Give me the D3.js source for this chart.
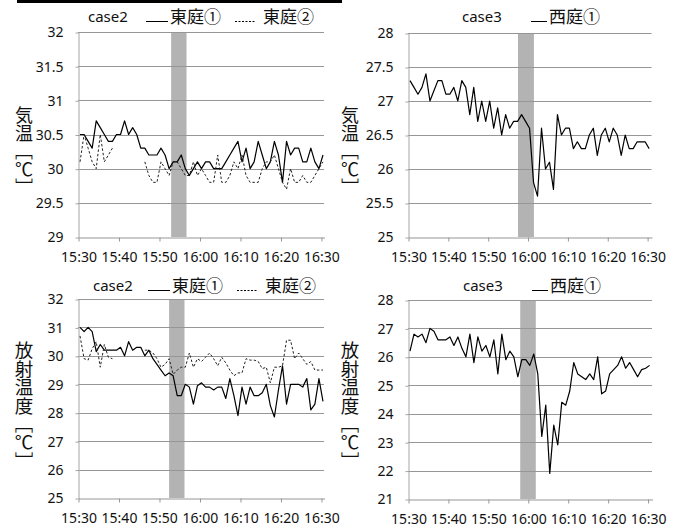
<!DOCTYPE html>
<html>
<head>
<meta charset="utf-8">
<script src="https://cdn.jsdelivr.net/npm/d3@7"></script>
<style>
  body { margin: 0; background: #fff; }
  svg { display: block; }
</style>
</head>
<body>
<svg id="chart" width="683" height="530"></svg>
<script>
// sample times: minutes after 15:30 (one reading per minute, at :30 s)
var times = d3.range(61).map(function(i) { return i + 0.5; });
var xTickValues = [0, 10, 20, 30, 40, 50, 60];
var xTickLabels = ['15:30', '15:40', '15:50', '16:00', '16:10', '16:20', '16:30'];

// 気温 case2
var east1Air = [30.5,30.5,30.4,30.3,30.7,30.6,30.5,30.4,30.4,30.5,
  30.5,30.7,30.5,30.6,30.5,30.3,30.3,30.2,30.2,30.2,
  30.3,30.2,30.0,30.1,30.1,30.2,30.0,29.9,30.0,30.1,
  30.0,30.1,30.1,30.0,30.0,30.0,30.1,30.2,30.3,30.4,
  30.1,30.3,30.0,30.1,30.4,30.2,30.0,30.1,30.4,30.2,
  29.8,30.4,30.2,30.3,30.3,30.1,30.1,30.3,30.1,30.0,30.2];
var east2Air = [30.1,30.5,30.3,30.1,30.0,30.5,30.1,30.2,30.3,null,
  null,null,null,null,null,null,30.1,29.9,29.8,29.8,
  30.1,30.0,29.9,30.1,30.1,30.0,29.9,29.9,30.1,29.9,
  30.0,29.9,29.8,29.8,30.2,29.8,29.8,29.9,30.1,30.0,
  30.2,29.9,29.8,29.8,29.8,30.0,30.1,30.1,30.2,30.0,
  29.8,29.7,30.0,29.8,29.8,29.9,29.8,29.8,29.9,30.0,30.1];
// 気温 case3
var west1Air = [27.3,27.2,27.1,27.2,27.4,27.0,27.15,27.3,27.3,27.1,
  27.1,27.2,27.0,27.3,27.2,26.8,27.2,26.7,27.0,26.7,
  27.0,26.6,26.9,26.5,26.8,26.6,26.7,26.7,26.8,26.7,
  26.6,25.8,25.6,26.6,26.0,26.1,25.7,26.8,26.5,26.6,
  26.6,26.3,26.4,26.3,26.3,26.5,26.6,26.2,26.5,26.6,
  26.4,26.6,26.5,26.2,26.5,26.3,26.3,26.4,26.4,26.4,26.3];
// 放射温度 case2
var east1Rad = [31.0,30.85,31.0,30.85,30.15,30.4,30.2,30.2,30.2,30.2,
  30.3,30.0,30.5,30.2,30.3,30.3,30.0,30.2,29.9,29.7,
  29.5,29.3,29.4,29.3,28.6,28.6,29.0,28.9,28.3,28.95,
  29.05,28.9,28.9,28.8,28.9,28.9,28.5,29.2,28.6,27.9,
  28.9,28.3,28.9,28.6,28.6,28.7,29.0,28.25,27.85,28.8,
  29.65,28.3,29.0,29.0,29.0,28.9,29.2,28.1,28.3,29.2,28.4];
var east2Rad = [30.7,29.9,29.85,30.25,30.5,29.6,30.4,29.95,29.9,null,
  null,null,null,null,null,null,30.2,30.2,30.1,29.9,
  29.6,29.7,29.9,29.35,29.5,29.6,29.6,30.1,29.6,29.9,
  29.8,29.95,30.1,29.9,29.65,29.95,29.75,29.5,29.3,29.4,
  29.4,29.9,29.85,29.85,29.8,29.55,29.6,29.05,29.6,29.6,
  29.65,30.55,30.55,29.9,30.1,29.9,29.7,29.8,29.5,29.5,29.5];
// 放射温度 case3
var west1Rad = [26.2,26.8,26.7,26.8,26.5,27.0,26.9,26.6,26.6,26.6,
  26.7,26.4,26.7,26.3,26.0,26.8,25.8,26.7,26.2,26.4,
  26.0,26.6,25.4,26.8,25.9,26.2,26.0,25.3,25.9,25.9,
  25.7,26.1,25.4,23.2,24.3,21.9,23.6,22.9,24.4,24.3,
  24.8,25.8,25.4,25.3,25.2,25.4,25.2,26.0,24.7,24.8,
  25.4,25.55,25.7,26.0,25.6,25.8,25.55,25.3,25.55,25.6,25.7];

var airTicksCase2 = [29, 29.5, 30, 30.5, 31, 31.5, 32];
var airTicksCase3 = [25, 25.5, 26, 26.5, 27, 27.5, 28];
var radTicksCase2 = [25, 26, 27, 28, 29, 30, 31, 32];
var radTicksCase3 = [21, 22, 23, 24, 25, 26, 27, 28];

var airLabel = '気温［℃］';
var radLabel = '放射温度［℃］';

var svg = d3.select('#chart');
var latin = '"Noto Sans", "Noto Sans CJK JP", sans-serif';
var cjk = '"Noto Sans CJK JP", "Noto Sans", sans-serif';

// black bar at the very top
svg.append('rect').attr('x', 17).attr('y', 0).attr('width', 325).attr('height', 3).attr('fill', '#000');

var panels = [
  { left: 78, right: 324, top: 32, bottom: 237, xMax: 60.75, yDomain: [29, 32], yTicks: airTicksCase2,
    band: [23.0, 26.8], series: [east1Air, east2Air], title: 'case2', titleX: 88, titleY: 17,
    legend: [{ x1: 146, x2: 168, textX: 170, text: '東庭①' }, { x1: 235, x2: 256, textX: 263, text: '東庭②', dash: true }],
    label: airLabel, labelX: 24, labelY: 115, labelSize: 18 },
  { left: 408, right: 651.5, top: 33, bottom: 237, xMax: 61.1, yDomain: [25, 28], yTicks: airTicksCase3,
    band: [27.6, 31.6], series: [west1Air], title: 'case3', titleX: 462, titleY: 17,
    legend: [{ x1: 531, x2: 547, textX: 549, text: '西庭①' }],
    label: airLabel, labelX: 350, labelY: 115, labelSize: 18 },
  { left: 78, right: 324, top: 299, bottom: 498, xMax: 60.75, yDomain: [25, 32], yTicks: radTicksCase2,
    band: [22.5, 26.3], series: [east1Rad, east2Rad], title: 'case2', titleX: 93, titleY: 286,
    legend: [{ x1: 148, x2: 170, textX: 172, text: '東庭①' }, { x1: 237, x2: 257, textX: 265, text: '東庭②', dash: true }],
    label: radLabel, labelX: 24, labelY: 350, labelSize: 18.5 },
  { left: 408, right: 652, top: 300, bottom: 499, xMax: 61.1, yDomain: [21, 28], yTicks: radTicksCase3,
    band: [28.1, 32.0], series: [west1Rad], title: 'case3', titleX: 463, titleY: 286,
    legend: [{ x1: 532, x2: 548, textX: 550, text: '西庭①' }],
    label: radLabel, labelX: 350, labelY: 350, labelSize: 18.5 }
];

panels.forEach(function(p) {
  var x = d3.scaleLinear().domain([0, p.xMax]).range([p.left, p.right]);
  var y = d3.scaleLinear().domain(p.yDomain).range([p.bottom, p.top]);
  var g = svg.append('g');

  // shaded period
  g.append('rect')
    .attr('x', x(p.band[0])).attr('width', x(p.band[1]) - x(p.band[0]))
    .attr('y', p.top).attr('height', p.bottom - p.top)
    .attr('fill', '#b3b3b3');

  // horizontal grid
  g.selectAll('.grid').data(p.yTicks.slice(1)).enter().append('line')
    .attr('x1', p.left).attr('x2', p.right)
    .attr('y1', function(d) { return Math.round(y(d)) + 0.5; })
    .attr('y2', function(d) { return Math.round(y(d)) + 0.5; })
    .attr('stroke', '#969696').attr('stroke-width', 1);

  // y axis
  var ya = g.append('g').attr('transform', 'translate(' + (Math.round(p.left) + 0.5) + ',0.5)')
    .call(d3.axisLeft(y).tickValues(p.yTicks).tickSize(3).tickSizeOuter(0).tickPadding(12)
      .tickFormat(function(d) { return String(d); }));
  ya.select('.domain').attr('stroke', '#a6a6a6');
  ya.selectAll('.tick line').attr('stroke', '#a6a6a6');
  ya.selectAll('text').attr('font-family', latin).attr('font-size', 14).attr('fill', '#111');

  // x axis
  var xa = g.append('g').attr('transform', 'translate(0.5,' + (Math.round(p.bottom) + 0.5) + ')')
    .call(d3.axisBottom(x).tickValues(xTickValues).tickSize(4).tickSizeOuter(0).tickPadding(11)
      .tickFormat(function(d, i) { return xTickLabels[i]; }));
  xa.select('.domain').attr('stroke', '#969696');
  xa.selectAll('.tick line').attr('stroke', '#969696');
  xa.selectAll('text').attr('font-family', latin).attr('font-size', 14).attr('fill', '#111');

  // data lines
  var line = d3.line()
    .defined(function(d) { return d != null; })
    .x(function(d, i) { return x(times[i]); })
    .y(function(d) { return y(d); });
  p.series.forEach(function(vals, k) {
    g.append('path')
      .attr('d', line(vals))
      .attr('fill', 'none')
      .attr('stroke', k === 0 ? '#000' : '#222')
      .attr('stroke-width', k === 0 ? 1.2 : 1)
      .attr('stroke-dasharray', k === 0 ? null : '2.5,2')
      .attr('stroke-linejoin', 'round');
  });

  // title + legend
  g.append('text').attr('x', p.titleX).attr('y', p.titleY).attr('dy', '0.35em')
    .attr('font-family', latin).attr('font-size', 15).attr('fill', '#111').text(p.title);
  p.legend.forEach(function(l) {
    g.append('line').attr('x1', l.x1).attr('x2', l.x2)
      .attr('y1', p.titleY + 4.5).attr('y2', p.titleY + 4.5)
      .attr('stroke', '#000').attr('stroke-width', 1)
      .attr('stroke-dasharray', l.dash ? '2,1.5' : null);
    g.append('text').attr('x', l.textX).attr('y', p.titleY).attr('dy', '0.35em')
      .attr('font-family', cjk).attr('font-size', 17).attr('fill', '#111').text(l.text);
  });

  // vertical axis title
  g.append('text')
    .attr('x', p.labelX).attr('y', p.labelY - p.labelSize / 2)
    .style('writing-mode', 'vertical-rl')
    .attr('font-family', cjk).attr('font-size', p.labelSize).attr('fill', '#111')
    .text(p.label);
});
</script>
</body>
</html>
